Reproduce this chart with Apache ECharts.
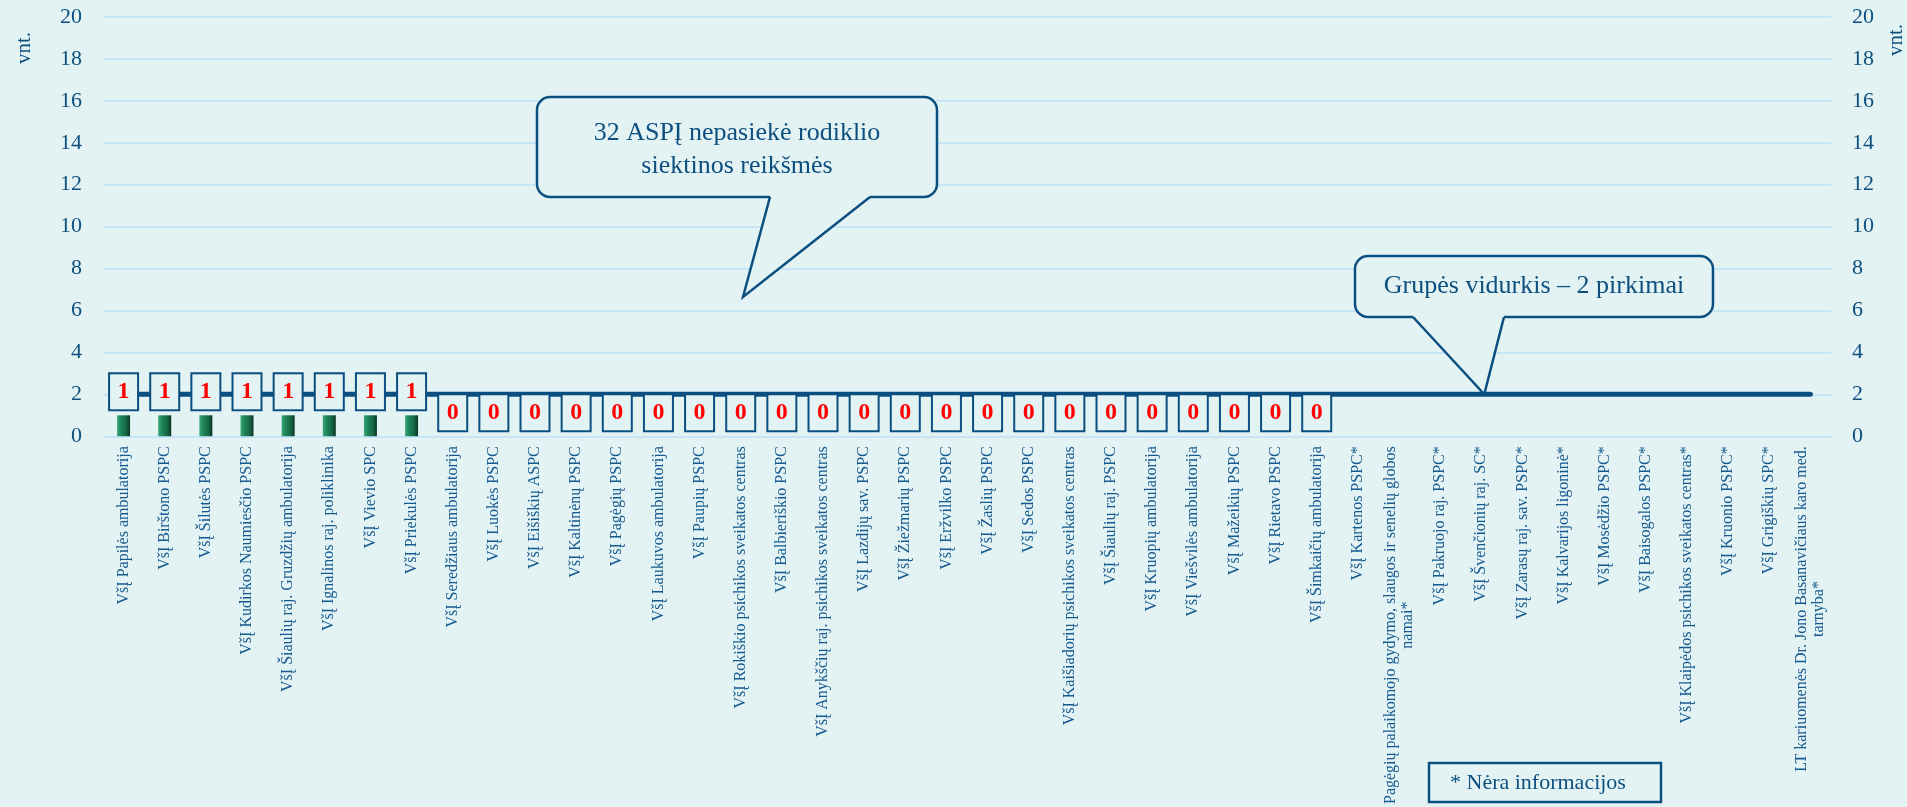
<!DOCTYPE html>
<html>
<head>
<meta charset="utf-8">
<script src="https://cdn.jsdelivr.net/npm/echarts@6/dist/echarts.min.js"></script>
<style>
html,body{margin:0;padding:0;background:#e3f3f4;}
#c{width:1907px;height:807px;}
</style>
</head>
<body>
<div id="c"></div>
<script>
const categories = [
  'VšĮ Papilės ambulatorija',
  'VšĮ Birštono PSPC',
  'VšĮ Šilutės PSPC',
  'VšĮ Kudirkos Naumiesčio PSPC',
  'VšĮ Šiaulių raj. Gruzdžių ambulatorija',
  'VšĮ Ignalinos raj. poliklinika',
  'VšĮ Vievio SPC',
  'VšĮ Priekulės PSPC',
  'VšĮ Seredžiaus ambulatorija',
  'VšĮ Luokės PSPC',
  'VšĮ Eišiškių ASPC',
  'VšĮ Kaltinėnų PSPC',
  'VšĮ Pagėgių PSPC',
  'VšĮ Laukuvos ambulatorija',
  'VšĮ Paupių PSPC',
  'VšĮ Rokiškio psichikos sveikatos centras',
  'VšĮ Balbieriškio PSPC',
  'VšĮ Anykščių raj. psichikos sveikatos centras',
  'VšĮ Lazdijų sav. PSPC',
  'VšĮ Žiežmarių PSPC',
  'VšĮ Eržvilko PSPC',
  'VšĮ Žaslių PSPC',
  'VšĮ Sedos PSPC',
  'VšĮ Kaišiadorių psichikos sveikatos centras',
  'VšĮ Šiaulių raj. PSPC',
  'VšĮ Kruopių ambulatorija',
  'VšĮ Viešvilės ambulatorija',
  'VšĮ Mažeikių PSPC',
  'VšĮ Rietavo PSPC',
  'VšĮ Šimkaičių ambulatorija',
  'VšĮ Kartenos PSPC*',
  'Pagėgių palaikomojo gydymo, slaugos ir senelių globos\nnamai*',
  'VšĮ Pakruojo raj. PSPC*',
  'VšĮ Švenčionių raj. SC*',
  'VšĮ Zarasų raj. sav. PSPC*',
  'VšĮ Kalvarijos ligoninė*',
  'VšĮ Mosėdžio PSPC*',
  'VšĮ Baisogalos PSPC*',
  'VšĮ Klaipėdos psichikos sveikatos centras*',
  'VšĮ Kruonio PSPC*',
  'VšĮ Grigiškių SPC*',
  'LT kariuomenės Dr. Jono Basanavičiaus karo med.\ntarnyba*'
];
const purchases = [
  1, 1, 1, 1, 1, 1, 1, 1,
  0, 0, 0, 0, 0, 0, 0, 0, 0, 0, 0, 0, 0, 0, 0, 0, 0, 0, 0, 0, 0, 0,
  null, null, null, null, null, null, null, null, null, null, null, null
];
const groupAverage = [
  2, 2, 2, 2, 2, 2, 2, 2, 2, 2, 2, 2, 2, 2, 2, 2, 2, 2, 2, 2, 2,
  2, 2, 2, 2, 2, 2, 2, 2, 2, 2, 2, 2, 2, 2, 2, 2, 2, 2, 2, 2, 2
];
const yMin = 0, yMax = 20, yStep = 2;
const axisUnit = 'vnt.';
const calloutBelow = ['32 ASPĮ nepasiekė rodiklio', 'siektinos reikšmės'];
const calloutAverage = 'Grupės vidurkis – 2 pirkimai';
const averageCalloutCategory = 33;
const noteText = '* Nėra informacijos';

const BG = '#e3f3f4';
const DARK = '#0b4f80';
const FONT = 'Liberation Serif';

const chart = echarts.init(document.getElementById('c'), null, {renderer: 'canvas'});

const yAxisCommon = {
  type: 'value', min: yMin, max: yMax, interval: yStep,
  axisLine: {show: false}, axisTick: {show: false},
  axisLabel: {fontSize: 22, color: '#0d4f7e', fontFamily: FONT, margin: 21}
};

chart.setOption({
  backgroundColor: BG,
  animation: false,
  grid: {left: 103, right: 76, top: 17, bottom: 368, containLabel: false},
  xAxis: {
    type: 'category',
    data: categories,
    axisLine: {show: false},
    axisTick: {show: false},
    axisLabel: {
      interval: 0, rotate: 90, margin: 10,
      fontSize: 16, color: '#15598f', fontFamily: FONT,
      formatter: function (v) {
        if (v.indexOf('\n') >= 0) {
          return v.split('\n').map(s => '{c|' + s + '}').join('\n');
        }
        return v;
      },
      rich: {c: {align: 'center', fontSize: 16, color: '#15598f', fontFamily: FONT, lineHeight: 17}}
    }
  },
  yAxis: [
    Object.assign({}, yAxisCommon, {
      position: 'left',
      splitLine: {show: true, lineStyle: {color: '#c6e5f7', width: 2}}
    }),
    Object.assign({}, yAxisCommon, {
      position: 'right',
      splitLine: {show: false}
    })
  ],
  series: [
    {
      type: 'line',
      data: groupAverage,
      symbol: 'none',
      z: 2,
      lineStyle: {color: DARK, width: 5, cap: 'round'},
      silent: true
    },
    {
      type: 'bar',
      data: purchases,
      barWidth: 13,
      z: 3,
      itemStyle: {
        color: new echarts.graphic.LinearGradient(0, 0, 1, 0, [
          {offset: 0, color: '#3aa878'},
          {offset: 0.3, color: '#1f8458'},
          {offset: 0.7, color: '#166846'},
          {offset: 1, color: '#0a3523'}
        ])
      },
      label: {
        show: true, position: 'top', distance: 6,
        color: '#ff0000', fontSize: 24, fontWeight: 'bold', fontFamily: FONT,
        backgroundColor: BG, borderColor: DARK, borderWidth: 2,
        width: 27, height: 35, lineHeight: 35
      }
    }
  ]
});

// annotations
const tip2 = chart.convertToPixel({xAxisIndex: 0, yAxisIndex: 0}, [averageCalloutCategory, groupAverage[averageCalloutCategory]]);

function callout(box, baseL, baseR, tip, lines, fs, dy) {
  const els = [];
  els.push({
    type: 'rect', z: 100,
    shape: {x: box.x, y: box.y, width: box.w, height: box.h, r: 13},
    style: {fill: BG, stroke: DARK, lineWidth: 2.5}
  });
  const by = box.y + box.h;
  els.push({
    type: 'polygon', z: 101,
    shape: {points: [[baseL, by - 4], [baseL, by], tip, [baseR, by], [baseR, by - 4]]},
    style: {fill: BG, stroke: null}
  });
  els.push({
    type: 'polyline', z: 102,
    shape: {points: [[baseL, by], tip, [baseR, by]]},
    style: {stroke: DARK, lineWidth: 2.5, fill: null, lineJoin: 'miter'}
  });
  els.push({
    type: 'text', z: 103,
    x: box.x + box.w / 2, y: box.y + box.h / 2 + dy,
    style: {
      text: lines.join('\n'), fill: '#0d4f7e', font: fs + 'px "' + FONT + '"',
      align: 'center', verticalAlign: 'middle', lineHeight: 33
    }
  });
  return els;
}

const graphics = [].concat(
  callout({x: 537, y: 97, w: 400, h: 100}, 770, 870, [743, 297], calloutBelow, 26, 3),
  callout({x: 1355, y: 256, w: 358, h: 61}, 1413, 1504, [tip2[0] + 3, tip2[1]], [calloutAverage], 26, 0),
  [
    {
      type: 'rect', z: 100,
      shape: {x: 1429, y: 763, width: 232, height: 39},
      style: {fill: BG, stroke: DARK, lineWidth: 2.5}
    },
    {
      type: 'text', z: 101, x: 1450, y: 783,
      style: {text: noteText, fill: '#0d4f7e', font: '22px "' + FONT + '"', align: 'left', verticalAlign: 'middle'}
    },
    {
      type: 'text', z: 101, x: 24, y: 48, rotation: Math.PI / 2,
      style: {text: axisUnit, fill: '#0d4f7e', font: '21px "' + FONT + '"', align: 'center', verticalAlign: 'middle'}
    },
    {
      type: 'text', z: 101, x: 1896, y: 40, rotation: Math.PI / 2,
      style: {text: axisUnit, fill: '#0d4f7e', font: '21px "' + FONT + '"', align: 'center', verticalAlign: 'middle'}
    }
  ]
);

chart.setOption({graphic: {elements: graphics}});
</script>
</body>
</html>
